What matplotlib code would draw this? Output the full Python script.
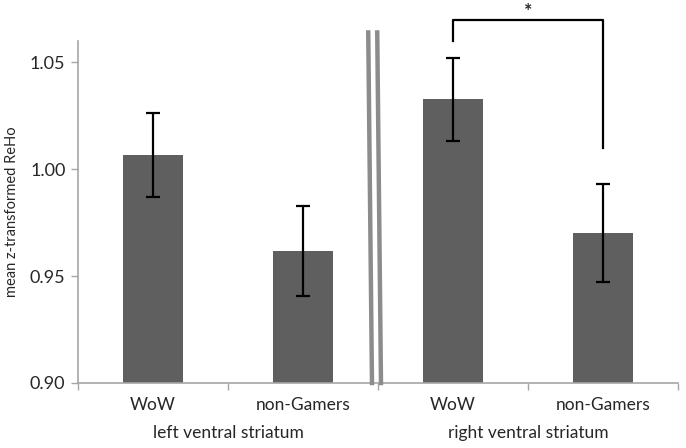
import matplotlib.pyplot as plt
from matplotlib.lines import Line2D

plt.rcParams['font.family'] = ['Lato', 'DejaVu Sans']

groups = ["left ventral striatum", "right ventral striatum"]
conditions = ["WoW", "non-Gamers", "WoW", "non-Gamers"]
means = [1.0065, 0.9617, 1.0327, 0.9701]
errors = [0.0197, 0.0210, 0.0194, 0.0230]
y_ticks = [0.90, 0.95, 1.00, 1.05]

bar_color = "#5f5f5f"
axis_color = "#a6a6a6"
text_color = "#262626"

fig = plt.figure(figsize=(6.86, 4.48), dpi=100)
ax = fig.add_axes([0.1137, 0.1451, 0.9883 - 0.1137, 0.9085 - 0.1451])

xpos = [i + 0.5 for i in range(len(means))]
ax.bar(xpos, [m - 0.9 for m in means], width=0.4, bottom=0.9, color=bar_color, zorder=2)
ax.errorbar(xpos, means, yerr=errors, fmt="none", ecolor="black",
            elinewidth=1.6, capsize=5, capthick=1.6, zorder=3)

ax.set_xlim(0, 4)
ax.set_ylim(0.9, 1.06)
ax.set_yticks(y_ticks)
ax.set_yticklabels([f"{v:.2f}" for v in y_ticks], fontsize=13, color=text_color)
ax.set_xticks([0, 1, 2, 3, 4])
ax.set_xticklabels([])
ax.tick_params(axis="both", color=axis_color, length=5, width=1)
ax.tick_params(axis="y", pad=4)

for side in ["top", "right"]:
    ax.spines[side].set_visible(False)
for side in ["left", "bottom"]:
    ax.spines[side].set_color(axis_color)
    ax.spines[side].set_linewidth(1.2)

ax.set_ylabel("mean z-transformed ReHo", fontsize=10.5, color=text_color, labelpad=8)

# category and group labels
trans = ax.get_xaxis_transform()
for x, lab in zip(xpos, conditions):
    ax.text(x, -0.065, lab, transform=trans, ha="center", va="center",
            fontsize=12.5, color=text_color)
for g, lab in enumerate(groups):
    ax.text(1 + 2 * g, -0.145, lab, transform=trans, ha="center", va="center",
            fontsize=12.5, color=text_color)

# axis break marks between the two regions
for dx in (-0.04, 0.02):
    ax.add_line(Line2D([1.975 + dx, 2.0 + dx], [1.064, 0.9], color="#8c8c8c",
                       lw=3.2, clip_on=False, zorder=4))

# significance bracket
ax.plot([2.5, 2.5, 3.5, 3.5], [1.0598, 1.070, 1.070, 1.0098], color="black",
        lw=1.6, clip_on=False, zorder=4)
ax.text(3.0, 1.0712, "*", ha="center", va="baseline", fontsize=14,
        fontweight="bold", color=text_color)

fig.savefig("out.png", dpi=100)
